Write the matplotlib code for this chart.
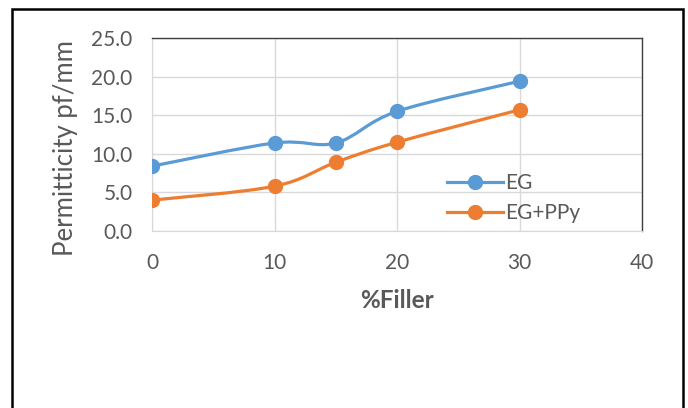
import numpy as np
import matplotlib.pyplot as plt
from matplotlib.path import Path
from matplotlib.patches import PathPatch, Rectangle
from matplotlib.lines import Line2D

plt.rcParams['font.family'] = ['Lato', 'DejaVu Sans']

filler = [0, 10, 15, 20, 30]
eg = [8.4, 11.4, 11.4, 15.5, 19.4]
eg_ppy = [4.0, 5.8, 8.9, 11.5, 15.7]

x_ticks = [0, 10, 20, 30, 40]
y_ticks = [0, 5, 10, 15, 20, 25]

BLUE = '#5B9BD5'
ORANGE = '#ED7D31'
GREY = '#595959'


def smooth_path(xs, ys):
    # excel-style smoothed line: bezier segments through the points
    p = np.column_stack([xs, ys]).astype(float)
    p_ext = np.vstack([p[0], p, p[-1]])
    verts = [p[0]]
    codes = [Path.MOVETO]
    for i in range(len(p) - 1):
        p0, p1, p2, p3 = p_ext[i], p_ext[i + 1], p_ext[i + 2], p_ext[i + 3]
        verts += [p1 + (p2 - p0) / 6, p2 - (p3 - p1) / 6, p2]
        codes += [Path.CURVE4] * 3
    return Path(verts, codes)


fig = plt.figure(figsize=(6.88, 4.08), dpi=100)
ax = fig.add_axes([152 / 688, 1 - 231 / 408, 490 / 688, 193 / 408])

for xs, ys, c in [(filler, eg, BLUE), (filler, eg_ppy, ORANGE)]:
    ax.add_patch(PathPatch(smooth_path(xs, ys), fill=False, edgecolor=c,
                           lw=2.3, capstyle='round', zorder=3))
    ax.plot(xs, ys, linestyle='none', marker='o', ms=10, color=c, zorder=4)

ax.set_xlim(0, 40)
ax.set_ylim(0, 25)
ax.set_xticks(x_ticks)
ax.set_yticks(y_ticks)
ax.set_yticklabels([f'{v:.1f}' for v in y_ticks])
ax.grid(True, color='#D9D9D9', lw=1)
ax.set_axisbelow(True)
ax.tick_params(length=0, labelsize=15, labelcolor=GREY)
ax.tick_params(axis='x', pad=16)
ax.tick_params(axis='y', pad=14)
for s in ['left', 'bottom']:
    ax.spines[s].set_color('#D9D9D9')
for s in ['top', 'right']:
    ax.spines[s].set_color('#404040')
    ax.spines[s].set_linewidth(1)

ax.set_ylabel('Permitticity pf/mm', fontsize=18.5, color=GREY)
ax.yaxis.set_label_coords(-86 / 490, 1 - (148 - 38) / 193)
ax.set_xlabel('%Filler', fontsize=17.5, color=GREY, fontweight='bold')
ax.xaxis.set_label_coords(0.5, -(300 - 231) / 193)
ax.xaxis.label.set_va('center')
ax.yaxis.label.set_va('center')

handles = [Line2D([], [], color=BLUE, lw=2.3, marker='o', ms=10),
           Line2D([], [], color=ORANGE, lw=2.3, marker='o', ms=10)]
ax.legend(handles, ['EG', 'EG+PPy'], frameon=False, fontsize=15,
          labelcolor=GREY, handlelength=2.7, handletextpad=0.1,
          labelspacing=0.5, borderpad=0, borderaxespad=0,
          loc='upper left', bbox_to_anchor=(295 / 490, 58 / 193))

fig.patches.append(Rectangle((12 / 688, -0.1), 671 / 688, (408 - 9) / 408 + 0.1,
                             transform=fig.transFigure, fill=False,
                             edgecolor='black', lw=1.8))

fig.savefig('out.png', dpi=100)
